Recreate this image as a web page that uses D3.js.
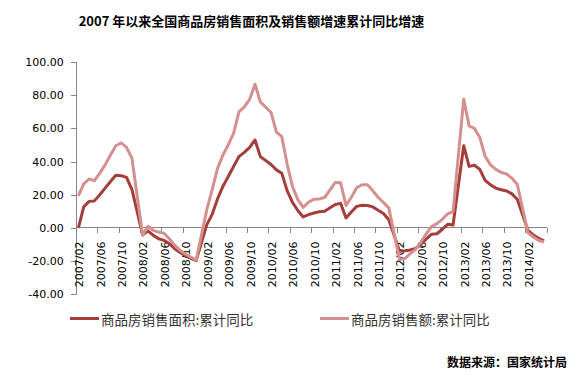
<!DOCTYPE html>
<html>
<head>
<meta charset="utf-8">
<script src="https://cdn.jsdelivr.net/npm/d3@7"></script>
<style>
  body { margin: 0; background: #fff; }
  svg { display: block; }
  .tick-label { font-family: "DejaVu Sans", sans-serif; font-size: 11px; fill: #000; }
  .axis-line { stroke: #868686; stroke-width: 1; shape-rendering: crispEdges; }
</style>
</head>
<body>
<div id="chart"></div>
<script>
// monthly categories 2007/02 .. 2014/05 (January has no data)
var months = d3.timeMonths(new Date(2007, 1, 1), new Date(2014, 5, 1)).map(d3.timeFormat("%Y/%m"));

var tickLabels = ["2007/02", "2007/06", "2007/10", "2008/02", "2008/06", "2008/10",
  "2009/02", "2009/06", "2009/10", "2010/02", "2010/06", "2010/10",
  "2011/02", "2011/06", "2011/10", "2012/02", "2012/06", "2012/10",
  "2013/02", "2013/06", "2013/10", "2014/02"];

var yTicks = [-40, -20, 0, 20, 40, 60, 80, 100];

// 商品房销售面积:累计同比
var areaYoY = [
  0, 12.7, 16, 16.3, 20, 24, 28, 31.8, 31.5, 30.5, 23.2,
  null, -4.2, -1.8, -4.5, -6.5, -7.5, -9.5, -12.5, -14.8, -16.5, -18.3, -19.7,
  null, 2, 8.2, 17.5, 25, 31, 37, 43, 45.5, 48.5, 53, 43,
  null, 38.2, 35, 33, 22.5, 15.4, 10.5, 6.6, 8, 9, 9.7, 10.1,
  null, 14.1, 14.8, 6, 9.6, 13, 13.7, 13.5, 12.7, 10.7, 8.7, 4.9,
  null, -14, -13.7, -13.3, -12.3, -9.8, -6.6, -3.8, -3.5, -0.8, 2.2, 1.8,
  null, 49.5, 37.1, 37.8, 35.3, 28.7, 26, 24, 23, 22.3, 20.5, 17.3,
  null, -1.5, -4.2, -6.3, -7.8
];

// 商品房销售额:累计同比
var salesYoY = [
  19.3, 26.5, 29.5, 28.5, 33, 38, 44, 49.5, 51.2, 48.5, 42.1,
  null, -4.4, 1, -1.5, -2.5, -3.3, -6.5, -10.5, -13.5, -15.8, -17.5, -19.5,
  null, 11, 23.1, 35.9, 43.9, 50, 57, 70, 73, 77.5, 86.6, 76,
  null, 69.6, 57.7, 55, 38.5, 25, 17, 12.4, 15.5, 17.3, 17.5, 18.3,
  null, 27.4, 27.2, 13.5, 18.5, 24.2, 26, 26, 22.5, 18.5, 15.3, 12.1,
  null, -19, -18.5, -15.5, -13, -8.5, -3.5, 0.8, 2.6, 5.2, 8.5, 9.8,
  null, 77.6, 61.5, 60, 54.5, 43.2, 38, 35.3, 33.5, 32.5, 30, 26.3,
  null, -3, -5.5, -7.5, -8.5
];

var seriesNames = ["商品房销售面积:累计同比", "商品房销售额:累计同比"];
var seriesColors = ["#A53E3B", "#D4908E"];

var width = 587, height = 379;
var plot = { left: 75.7, right: 546.7, top: 62, bottom: 294.3 };

var svg = d3.select("#chart").append("svg")
  .attr("width", width)
  .attr("height", height);

var x = d3.scaleBand().domain(months).range([plot.left, plot.right]).padding(0);
var y = d3.scaleLinear().domain([-40, 100]).range([plot.bottom, plot.top]);

var fmt = d3.formatLocale({ decimal: ".", thousands: ",", grouping: [3], currency: ["", ""], minus: "-" }).format(".2f");

// Title
svg.append("text")
  .attr("x", 251.5)
  .attr("y", 26)
  .attr("text-anchor", "middle")
  .style("font-family", '"Noto Sans CJK SC", sans-serif')
  .style("font-weight", "bold")
  .style("font-size", "13px")
  .style("fill", "#000")
  .text("2007 年以来全国商品房销售面积及销售额增速累计同比增速");

// Y axis
var yAxis = svg.append("g")
  .attr("transform", "translate(" + plot.left + ",0)")
  .call(d3.axisLeft(y).tickValues(yTicks).tickSize(5).tickPadding(7).tickFormat(fmt));
yAxis.select(".domain").attr("stroke", "#868686").attr("shape-rendering", "crispEdges");
yAxis.selectAll(".tick line").attr("stroke", "#868686").attr("shape-rendering", "crispEdges");
yAxis.selectAll(".tick text")
  .attr("class", "tick-label")
  .style("font-family", '"DejaVu Sans", sans-serif')
  .style("font-size", "11px")
  .attr("fill", "#000");

// X axis at zero
var y0 = y(0);
svg.append("line")
  .attr("class", "axis-line")
  .attr("x1", plot.left).attr("x2", plot.right)
  .attr("y1", y0).attr("y2", y0);

var tickPos = months.filter(function (m, i) { return i % 4 === 0; }).map(function (m) { return x(m); });
tickPos.push(plot.right);

svg.selectAll(".x-tick")
  .data(tickPos)
  .enter()
  .append("line")
  .attr("class", "axis-line")
  .attr("x1", function (d) { return Math.round(d) + 0.5; })
  .attr("x2", function (d) { return Math.round(d) + 0.5; })
  .attr("y1", y0)
  .attr("y2", y0 + 5);

svg.selectAll(".x-label")
  .data(tickLabels)
  .enter()
  .append("text")
  .attr("class", "tick-label")
  .attr("text-anchor", "end")
  .attr("dy", "0.35em")
  .attr("transform", function (d) {
    return "translate(" + (x(d) + x.bandwidth() / 2 + 1) + "," + 241.5 + ") rotate(-90)";
  })
  .text(function (d) { return d; });

// Lines (gaps in January are bridged)
var line = d3.line()
  .x(function (d) { return x(d.month) + x.bandwidth() / 2; })
  .y(function (d) { return y(d.value); });

[areaYoY, salesYoY].forEach(function (values, k) {
  var pts = months.map(function (m, i) { return { month: m, value: values[i] }; })
    .filter(function (d) { return d.value != null; });
  svg.append("path")
    .datum(pts)
    .attr("fill", "none")
    .attr("stroke", seriesColors[k])
    .attr("stroke-width", 3)
    .attr("stroke-linejoin", "round")
    .attr("d", line);
});

// Legend
var legendX = [70, 320];
seriesNames.forEach(function (name, k) {
  svg.append("line")
    .attr("x1", legendX[k]).attr("x2", legendX[k] + 29)
    .attr("y1", 318.5).attr("y2", 318.5)
    .attr("stroke", seriesColors[k])
    .attr("stroke-width", 3);
  svg.append("text")
    .attr("x", legendX[k] + 31)
    .attr("y", 318.5)
    .attr("dominant-baseline", "central")
    .style("font-family", '"Noto Sans CJK SC", sans-serif')
    .style("font-size", "13.5px")
    .style("fill", "#333")
    .text(name);
});

// Source note
svg.append("text")
  .attr("x", 567)
  .attr("y", 367)
  .attr("text-anchor", "end")
  .style("font-family", '"Noto Sans CJK SC", sans-serif')
  .style("font-weight", "bold")
  .style("font-size", "12px")
  .style("fill", "#000")
  .text("数据来源：国家统计局");
</script>
</body>
</html>
